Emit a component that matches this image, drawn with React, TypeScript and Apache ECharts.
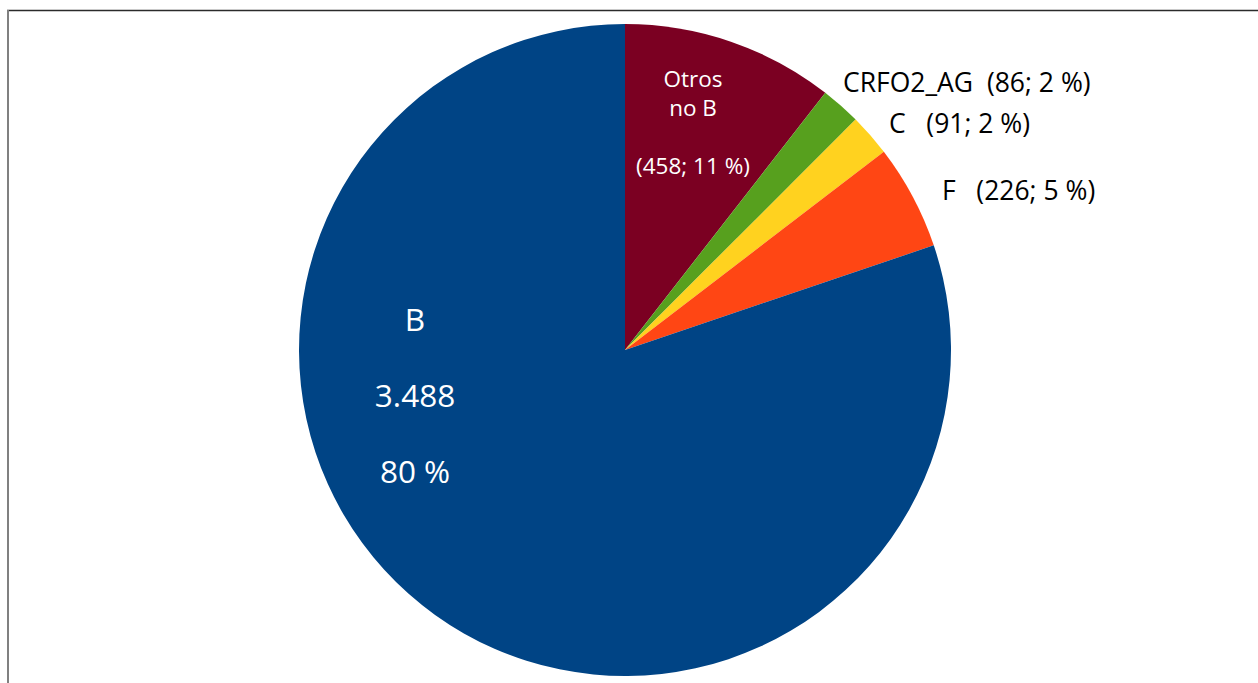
import React, { useEffect, useRef } from "react";
import * as echarts from "echarts";

const categories = ["Otros no B", "CRFO2_AG", "C", "F", "B"];
const values = [458, 86, 91, 226, 3488];
const colors = ["#7b0022", "#57a01e", "#ffd21f", "#ff4614", "#004485"];

const fmtNum = (v: number) => String(v).replace(/\B(?=(\d{3})+(?!\d))/g, ".");

export default function App() {
  const ref = useRef<HTMLDivElement>(null);
  useEffect(() => {
    if (!ref.current) return;
    const chart = echarts.init(ref.current, null, { renderer: "svg" });
    const total = values.reduce((a, b) => a + b, 0);
    const pct = (v: number) => Math.round((v / total) * 100);
    const font = "'Open Sans', 'Noto Sans', sans-serif";
    const labelFor = (i: number) => {
      const v = values[i];
      const name = categories[i];
      if (i === 0) return `Otros\nno B\n\n(${fmtNum(v)}; ${pct(v)} %)`;
      if (i === 4) return `${name}\n\n${fmtNum(v)}\n\n${pct(v)} %`;
      if (i === 1) return `${name}  (${fmtNum(v)}; ${pct(v)} %)`;
      return `${name}   (${fmtNum(v)}; ${pct(v)} %)`;
    };
    const labelStyles: any[] = [
      { color: "#ffffff", fontSize: 22.5, lineHeight: 29 },
      { color: "#000000", fontSize: 26.5, lineHeight: 30 },
      { color: "#000000", fontSize: 26.5, lineHeight: 30 },
      { color: "#000000", fontSize: 26.5, lineHeight: 30 },
      { color: "#ffffff", fontSize: 31.5, lineHeight: 38 },
    ];
    const labelPos: any[] = [
      { x: 693, y: 122, align: "center" },
      { x: 843, y: 82, align: "left" },
      { x: 889, y: 123, align: "left" },
      { x: 942, y: 190, align: "left" },
      { x: 415, y: 394, align: "center" },
    ];
    chart.setOption({
      animation: false,
      backgroundColor: "#ffffff",
      graphic: [
        {
          type: "line",
          shape: { x1: 7, y1: 10.5, x2: 1258, y2: 10.5 },
          style: { stroke: "#2b2b2b", lineWidth: 1.5 },
        },
        {
          type: "line",
          shape: { x1: 8, y1: 10, x2: 8, y2: 683 },
          style: { stroke: "#808080", lineWidth: 2 },
        },
      ],
      series: [
        {
          type: "pie",
          center: [625, 350],
          radius: 326,
          startAngle: 90,
          clockwise: true,
          avoidLabelOverlap: false,
          labelLine: { show: false },
          itemStyle: { borderWidth: 0 },
          emphasis: { disabled: true },
          data: categories.map((name, i) => ({
            name,
            value: values[i],
            itemStyle: { color: colors[i] },
            label: {
              show: true,
              position: i === 0 || i === 4 ? "inside" : "outside",
              formatter: labelFor(i),
              fontFamily: font,
              ...labelStyles[i],
            },
          })),
          labelLayout: (params: any) => ({
            ...labelPos[params.dataIndex],
            verticalAlign: "middle",
          }),
        },
      ],
    });
    return () => chart.dispose();
  }, []);
  return (
    <div
      ref={ref}
      style={{ position: "fixed", left: 0, top: 0, width: 1258, height: 683 }}
    />
  );
}
